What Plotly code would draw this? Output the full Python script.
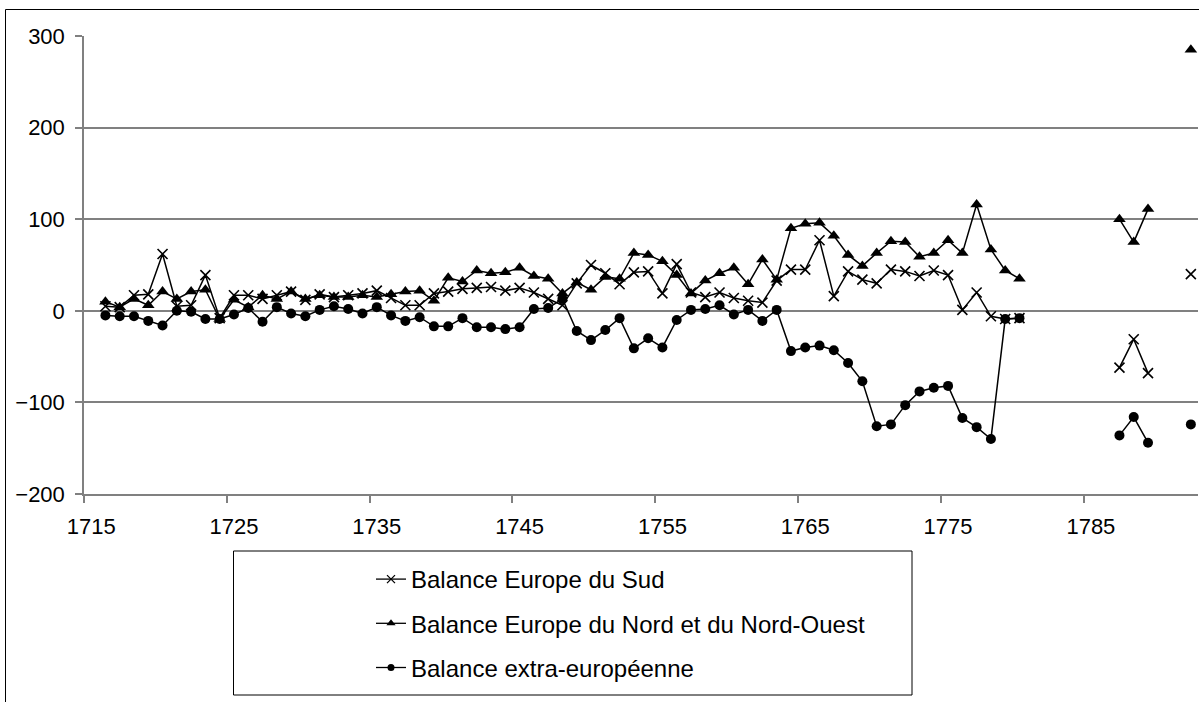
import plotly.graph_objects as go

# Années (catégories) et soldes par zone, en millions de livres
years = list(range(1716, 1793))

sud = [5, 4, 17, 18, 62, 5, 6, 39, -8, 17, 17, 13, 17, 21, 12, 18, 15, 17, 19, 22,
       14, 6, 6, 19, 21, 24, 25, 26, 22, 25, 20, 13, 6, 30, 50, 41, 29, 42, 43, 19,
       51, 20, 15, 20, 14, 11, 9, 33, 45, 45, 77, 16, 43, 34, 30, 45, 43, 38, 44, 39,
       1, 20, -6, -9, -8,
       None, None, None, None, None, None,
       -62, -31, -68,
       None, None,
       40]

nord = [10, 4, 13, 6, 21, 13, 21, 23, -9, 12, 4, 17, 13, 21, 13, 17, 15, 15, 17, 15,
        18, 21, 22, 11, 36, 32, 44, 41, 42, 47, 38, 35, 19, 31, 23, 37, 35, 63, 61, 54,
        39, 19, 33, 41, 47, 29, 56, 34, 90, 95, 96, 82, 61, 49, 63, 76, 75, 59, 63, 77,
        63, 116, 67, 44, 35,
        None, None, None, None, None, None,
        100, 75, 111,
        None, None,
        285]

extra = [-5, -6, -6, -11, -16, 0, -1, -9, -9, -4, 3, -12, 4, -3, -6, 1, 5, 2, -3, 4,
         -5, -11, -7, -17, -17, -8, -18, -18, -20, -18, 2, 3, 13, -22, -32, -21, -8, -41, -30, -40,
         -10, 1, 2, 6, -4, 1, -11, 1, -44, -40, -38, -43, -57, -77, -126, -124, -103, -88, -84, -82,
         -117, -127, -140, -9, -8,
         None, None, None, None, None, None,
         -136, -116, -144,
         None, None,
         -124]

labels = ["Balance Europe du Sud",
          "Balance Europe du Nord et du Nord-Ouest",
          "Balance extra-européenne"]

tick_years = [1715, 1725, 1735, 1745, 1755, 1765, 1775, 1785]
y_ticks = [-200, -100, 0, 100, 200, 300]

FONT = "Liberation Sans, Arial, sans-serif"
GRID = "#808080"

W, H = 1199, 702
ML, MR, MT, MB = 84, 1, 36, 208
PW, PH = W - ML - MR, H - MT - MB


def px_x(px):
    return (px - ML) / PW


def px_y(py):
    return (H - MB - py) / PH


fig = go.Figure()

# marqueurs des courbes, puis marqueurs réduits pour la légende
styles = [
    dict(symbol="x-thin", size=10, line=dict(color="black", width=1.6)),
    dict(symbol="triangle-up", size=11, color="black"),
    dict(symbol="circle", size=10, color="black"),
]
legend_styles = [
    dict(symbol="x-thin", size=8, line=dict(color="black", width=1.3)),
    dict(symbol="triangle-up", size=8, color="black"),
    dict(symbol="circle", size=7, color="black"),
]

for i, (name, vals, mk) in enumerate(zip(labels, [sud, nord, extra], styles)):
    fig.add_trace(go.Scatter(
        x=years, y=vals, name=name, mode="lines+markers",
        line=dict(color="black", width=1.5),
        marker=mk, connectgaps=False, showlegend=False,
    ))

for i, (name, mk) in enumerate(zip(labels, legend_styles)):
    fig.add_trace(go.Scatter(
        x=[None], y=[None], name=name, mode="lines+markers",
        line=dict(color="black", width=1.3),
        marker=mk, showlegend=True, legendgroup=f"g{i}",
    ))

fig.update_layout(
    width=W, height=H,
    margin=dict(l=ML, r=MR, t=MT, b=MB, pad=0),
    paper_bgcolor="white", plot_bgcolor="white",
    font=dict(family=FONT, size=22, color="black"),
    showlegend=True,
    legend=dict(
        x=px_x(371), y=px_y(557), xanchor="left", yanchor="top",
        bgcolor="rgba(0,0,0,0)", borderwidth=0,
        tracegroupgap=10, itemwidth=30,
        font=dict(family=FONT, size=24, color="black"),
    ),
    xaxis=dict(
        range=[1714.5, 1792.5],
        tickmode="array", tickvals=tick_years,
        ticktext=[str(t) for t in tick_years],
        ticks="", showgrid=False, zeroline=False,
        showline=True, linecolor=GRID, linewidth=1.5,
        ticklabelstandoff=12,
        minor=dict(tick0=1714.5, dtick=10, ticks="outside", ticklen=7,
                   tickcolor=GRID, tickwidth=1.5, showgrid=False),
    ),
    yaxis=dict(
        range=[-200, 300],
        tickmode="array", tickvals=y_ticks,
        ticks="outside", ticklen=7, tickcolor=GRID, tickwidth=1.5,
        showgrid=True, gridcolor=GRID, gridwidth=1.5,
        zeroline=False,
        showline=True, linecolor=GRID, linewidth=1.5,
        ticklabelstandoff=6,
    ),
    shapes=[
        # cadre extérieur du graphique
        dict(type="rect", xref="paper", yref="paper",
             x0=px_x(5.5), y0=px_y(720), x1=px_x(1230), y1=px_y(9.5),
             line=dict(color="black", width=1), layer="below"),
        # cadre de la légende
        dict(type="rect", xref="paper", yref="paper",
             x0=px_x(233.5), y0=px_y(695), x1=px_x(912), y1=px_y(551),
             line=dict(color="black", width=1), layer="below"),
    ],
)

fig.write_html("out.html")
